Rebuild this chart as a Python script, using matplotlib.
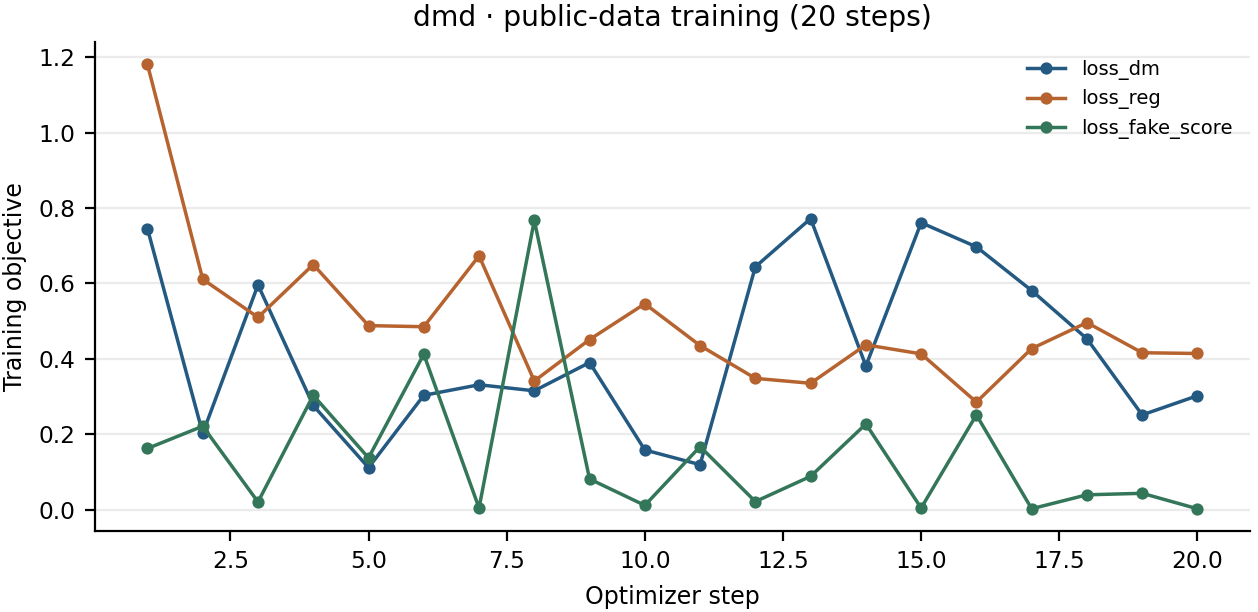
import matplotlib
matplotlib.use("Agg")
import matplotlib.pyplot as plt

steps = list(range(1, 21))
loss_dm = [0.745, 0.202, 0.596, 0.276, 0.111, 0.303, 0.331, 0.315, 0.390, 0.158,
           0.119, 0.644, 0.772, 0.381, 0.761, 0.697, 0.581, 0.453, 0.251, 0.302]
loss_reg = [1.181, 0.611, 0.510, 0.650, 0.488, 0.485, 0.673, 0.341, 0.451, 0.546,
            0.435, 0.348, 0.335, 0.437, 0.413, 0.285, 0.427, 0.496, 0.416, 0.414]
loss_fake_score = [0.162, 0.221, 0.020, 0.303, 0.137, 0.412, 0.004, 0.767, 0.081, 0.011,
                   0.167, 0.021, 0.088, 0.227, 0.004, 0.251, 0.002, 0.039, 0.043, 0.002]

series = [("loss_dm", loss_dm, "#245a82"),
          ("loss_reg", loss_reg, "#b6632f"),
          ("loss_fake_score", loss_fake_score, "#347659")]

fig, ax = plt.subplots(figsize=(6.29, 3.06), dpi=200)
fig.subplots_adjust(left=0.0755, right=0.9936, bottom=0.1324, top=0.931)

for name, vals, col in series:
    ax.plot(steps, vals, marker="o", markersize=3.4, linewidth=1.25, color=col, label=name)

ax.grid(axis="y", color="#ebebeb", linewidth=0.8)
ax.set_axisbelow(True)
for s in ["top", "right"]:
    ax.spines[s].set_visible(False)
ax.spines["left"].set_linewidth(0.8)
ax.spines["bottom"].set_linewidth(0.8)
ax.tick_params(labelsize=8.4, width=0.8, length=3.5)

ax.set_title("dmd · public-data training (20 steps)", fontsize=10.2)
ax.set_xlabel("Optimizer step", fontsize=8.5)
ax.set_ylabel("Training objective", fontsize=8.5)
ax.legend(loc="upper right", frameon=False, fontsize=7)

fig.savefig("out.png", dpi=200)
